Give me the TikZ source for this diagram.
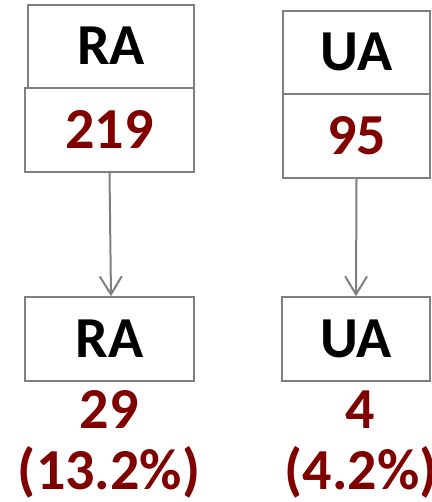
\documentclass[tikz,border=0pt]{standalone}
\usepackage{fontspec}
\setmainfont{Carlito}
\usepackage{xcolor}
\usetikzlibrary{arrows.meta}
\definecolor{darkred}{HTML}{800000}
\definecolor{boxgray}{HTML}{7F7F7F}

\begin{document}
\begin{tikzpicture}[x=1pt,y=-1pt,
    box/.style={draw=boxgray, line width=1.5pt, inner sep=0pt, text height=37pt, text depth=0pt,
      font=\fontsize{58}{60}\selectfont\bfseries},
    count/.style={text=darkred, inner sep=0pt, anchor=base, font=\fontsize{58}{60}\selectfont\bfseries},
    flow/.style={draw=boxgray, line width=2pt, -{Straight Barb[length=18pt,width=22pt,line width=2pt]}}]
  \useasboundingbox (0,0) rectangle (431,502);

  % left column
  \node[box, minimum width=166pt, minimum height=83pt] (ra) at (111,46.5) {RA};
  \node[box, text=darkred, minimum width=169pt, minimum height=84pt] (ran) at (109.5,130) {219};
  \node[box, minimum width=169pt, minimum height=84pt] (rb) at (109.5,339) {RA};
  \node[count] (rbn) at (109,428) {29};
  \node[count] (rbp) at (109,489) {(13.2\%)};
  \draw[flow] (ran.south) -- ([xshift=1.5pt]rb.north);

  % right column
  \node[box, minimum width=147pt, minimum height=83pt] (ua) at (356.5,52.5) {UA};
  \node[box, text=darkred, minimum width=147pt, minimum height=84pt] (uan) at (356.5,136) {95};
  \node[box, minimum width=148pt, minimum height=84pt] (ub) at (356,339) {UA};
  \node[count] (ubn) at (360,428) {4};
  \node[count] (ubp) at (361,489) {(4.2\%)};
  \draw[flow] (uan.south) -- (ub.north);
\end{tikzpicture}
\end{document}
